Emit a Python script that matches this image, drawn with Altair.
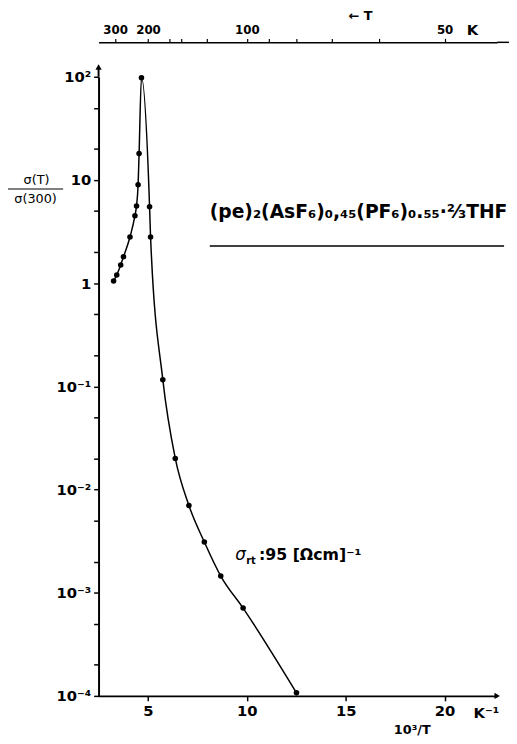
import altair as alt
import pandas as pd

# ---- data ----
inv_T = [3.26, 3.42, 3.62, 3.76, 4.09, 4.34, 4.42, 4.50, 4.55, 4.67,
         5.08, 5.13, 5.75, 6.38, 7.07, 7.85, 8.68, 9.81, 12.51]
sigma_ratio = [1.05, 1.2, 1.5, 1.8, 2.8, 4.5, 5.6, 9.0, 18.0, 98.0,
               5.5, 2.8, 0.116, 0.020, 0.0070, 0.0031, 0.00145, 0.00071, 0.000107]

x_ticks = [5, 10, 15, 20]
y_ticks = [1e-4, 2e-4, 5e-4, 1e-3, 2e-3, 5e-3, 1e-2, 2e-2, 5e-2, 0.1, 0.2, 0.5,
           1, 2, 5, 10, 20, 50, 100]
top_T_major = [300, 200, 100, 50]
top_T_minor = [165, 150, 125, 90, 80, 70, 60]

df = pd.DataFrame({"x": inv_T, "y": sigma_ratio})
dummy = pd.DataFrame({"a": [0]})

FONT = "DejaVu Sans"

xscale = alt.Scale(domain=[2.5, 22.66], nice=False, zero=False)
yscale = alt.Scale(type="log", domain=[1e-4, 100], nice=False)

common = dict(grid=False, domainColor="black", tickColor="black", labelColor="black",
              labelFont=FONT, labelFontWeight="bold", labelOverlap=False, labelFlush=False,
              title=None)

bottom_axis = alt.Axis(values=x_ticks, orient="bottom", labelFontSize=15, tickSize=5,
                       domainWidth=2, tickWidth=1.5, labelPadding=3, **common)

top_vals = [1000.0 / t for t in top_T_major + top_T_minor]
top_axis = alt.Axis(values=top_vals, orient="top", offset=35, labelFontSize=12, tickSize=4,
                    domainWidth=1.5, tickWidth=1.2, labelPadding=2,
                    labelExpr="indexof([300,200,100,50], round(1000/datum.value)) >= 0 ? '' + round(1000/datum.value) : ''",
                    **common)

y_label_expr = ("datum.value == 0.0001 ? '10⁻⁴' : datum.value == 0.001 ? '10⁻³' : "
                "datum.value == 0.01 ? '10⁻²' : datum.value == 0.1 ? '10⁻¹' : "
                "datum.value == 1 ? '1' : datum.value == 10 ? '10' : "
                "datum.value == 100 ? '10²' : ''")
y_axis = alt.Axis(values=y_ticks, orient="left", labelFontSize=15, tickSize=5,
                  domainWidth=2, tickWidth=1.5, labelPadding=3, labelExpr=y_label_expr,
                  **common)

line = alt.Chart(df).mark_line(color="black", strokeWidth=1.5, interpolate="monotone").encode(
    x=alt.X("x:Q", scale=xscale, axis=bottom_axis),
    y=alt.Y("y:Q", scale=yscale, axis=y_axis),
)
points = alt.Chart(df).mark_circle(color="black", size=32, opacity=1).encode(
    x=alt.X("x:Q", scale=xscale, axis=top_axis),
    y=alt.Y("y:Q", scale=yscale, axis=y_axis),
)


def label(text, x, y, size=14, align="left", weight="bold", baseline="middle", style="normal"):
    return alt.Chart(dummy).mark_text(text=text, align=align, baseline=baseline, fontSize=size,
                                      fontWeight=weight, font=FONT, fontStyle=style,
                                      color="black").encode(x=alt.value(x), y=alt.value(y))


def rule(x1, x2, y, w=1.5):
    return alt.Chart(dummy).mark_rule(color="black", strokeWidth=w).encode(
        x=alt.value(x1), x2=alt.value(x2), y=alt.value(y))


def vrule(x, y1, y2, w=2):
    return alt.Chart(dummy).mark_rule(color="black", strokeWidth=w).encode(
        x=alt.value(x), y=alt.value(y1), y2=alt.value(y2))


def arrow(shape, x, y):
    return alt.Chart(dummy).mark_point(shape=shape, filled=True, color="black", size=40,
                                       opacity=1).encode(x=alt.value(x), y=alt.value(y))


annotations = [
    # y-axis title as a fraction
    label("σ(T)", -63, 105, size=13, align="center", weight="normal"),
    rule(-93, -36, 114, w=1.2),
    label("σ(300)", -64, 124, size=13, align="center", weight="normal"),
    # compound
    label("(pe)₂(AsF₆)₀,₄₅(PF₆)₀.₅₅·⅔THF", 113, 143, size=19, weight="bold",
          baseline="alphabetic"),
    rule(113, 412, 172, w=1.5),
    # sigma_rt
    label("σ", 139, 486, size=17, weight="normal", style="italic"),
    label("rt", 150, 492, size=10, weight="bold"),
    label(":95 [Ωcm]⁻¹", 163, 486, size=16, weight="bold"),
    # top labels
    label("← T", 254, -62, size=13, weight="bold"),
    label("K", 374, -47, size=15, weight="bold"),
    rule(405, 417, -35, w=1.5),
    # bottom labels
    label("K⁻¹", 381, 646, size=15, weight="bold"),
    label("10³/T", 300, 664, size=13, weight="bold"),
    # arrows
    vrule(0, -10, 0),
    arrow("triangle-up", 0, -10),
    arrow("triangle-right", 405, 629),
]

chart = alt.layer(line, points, *annotations).resolve_scale(x="shared", y="shared").resolve_axis(
    x="independent", y="shared"
).properties(
    width=405, height=629,
    autosize=alt.AutoSizeParams(type="none"),
    padding={"left": 92, "top": 64, "right": 12, "bottom": 43},
    background="white",
).configure_view(stroke=None)

chart.save("out.html", embed_options={"renderer": "svg", "actions": False})
